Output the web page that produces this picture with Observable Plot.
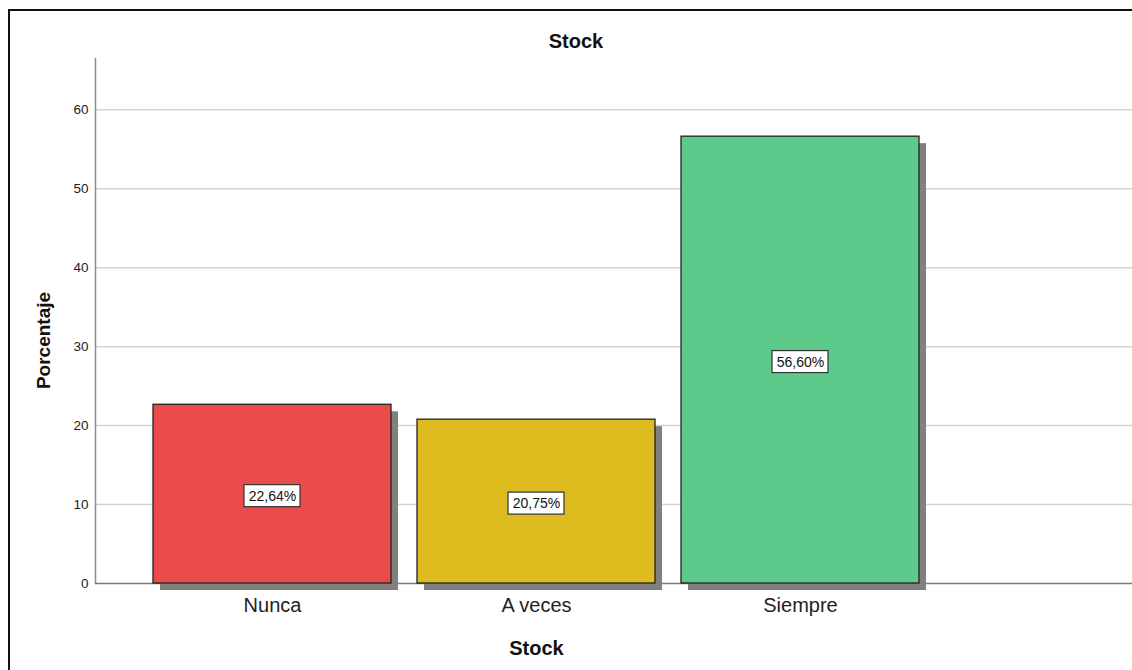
<!DOCTYPE html>
<html>
<head>
<meta charset="utf-8">
<script src="https://cdn.jsdelivr.net/npm/d3@7"></script>
<script src="https://cdn.jsdelivr.net/npm/@observablehq/plot@0.6"></script>
<style>
  html, body { margin: 0; padding: 0; background: white; }
  #wrap { position: relative; width: 1132px; height: 670px; overflow: hidden; font-family: "Liberation Sans", Arial, sans-serif; }
  #title { height: 58px; width: 1152px; box-sizing: border-box; padding-top: 31px; text-align: center; font-size: 20px; line-height: 20px; font-weight: bold; color: #111; }
  #border { position: absolute; left: 8px; top: 9px; width: 1300px; height: 800px; border-left: 2px solid #111; border-top: 2px solid #111; pointer-events: none; }
</style>
</head>
<body>
<div id="wrap">
  <div id="title">Stock</div>
  <div id="chart"></div>
  <div id="border"></div>
</div>
<script>
const categories = ["Nunca", "A veces", "Siempre"];
const values = [22.64, 20.75, 56.60];
const valueLabels = ["22,64%", "20,75%", "56,60%"];
const colors = ["#eb4b4b", "#debb1f", "#5dc98b"];
const yTicks = [0, 10, 20, 30, 40, 50, 60];
const xTitle = "Stock";
const yTitle = "Porcentaje";

const rows = categories.map((c, i) => ({cat: c, val: values[i], label: valueLabels[i], color: colors[i]}));

const chart = Plot.plot({
  width: 1132,
  height: 612,
  marginTop: 0,
  marginLeft: 95,
  marginRight: 0,
  marginBottom: 87,
  style: {fontFamily: "'Liberation Sans', Arial, sans-serif", background: "transparent", overflow: "visible"},
  x: {domain: categories, range: [140, 932], paddingInner: 0.1, paddingOuter: 0.05, axis: null, label: null},
  y: {domain: [0, 66.5], axis: null, label: null},
  marks: [
    Plot.ruleY(yTicks.filter(d => d > 0), {stroke: "#d3d3d3", strokeWidth: 1.5}),
    Plot.frame({anchor: "left", stroke: "#8c8c8c", strokeWidth: 1.5}),
    Plot.ruleY([0], {stroke: "#7a7a7a", strokeWidth: 1.5}),
    Plot.axisY({ticks: yTicks, tickSize: 0, tickPadding: 7, fontSize: 13.5, color: "#222", label: null}),
    Plot.axisX({tickSize: 0, tickPadding: 14, fontSize: 20, color: "#222", label: null}),
    Plot.barY(rows, {x: "cat", y: "val", fill: "#808080", dx: 7, dy: 7}),
    Plot.barY(rows, {x: "cat", y: "val", fill: "color", stroke: "#222", strokeWidth: 1.3}),
    Plot.barY(rows, {x: "cat", y1: d => d.val / 2, y2: d => d.val / 2, fill: "white", stroke: "#333", strokeWidth: 1.2,
      insetLeft: 91, insetRight: 91, insetTop: -11, insetBottom: -11, dy: 2}),
    Plot.text(rows, {x: "cat", y: d => d.val / 2, text: "label", fontSize: 14, fill: "#111", dy: 2}),
    Plot.text([yTitle], {frameAnchor: "left", textAnchor: "middle", dx: -52, dy: 19.5, rotate: -90, fontSize: 19, fontWeight: "bold", fill: "#111"}),
    Plot.text([xTitle], {frameAnchor: "bottom", dx: -77.5, dy: 71, fontSize: 20, fontWeight: "bold", fill: "#111"})
  ]
});
document.getElementById("chart").appendChild(chart);
</script>
</body>
</html>
